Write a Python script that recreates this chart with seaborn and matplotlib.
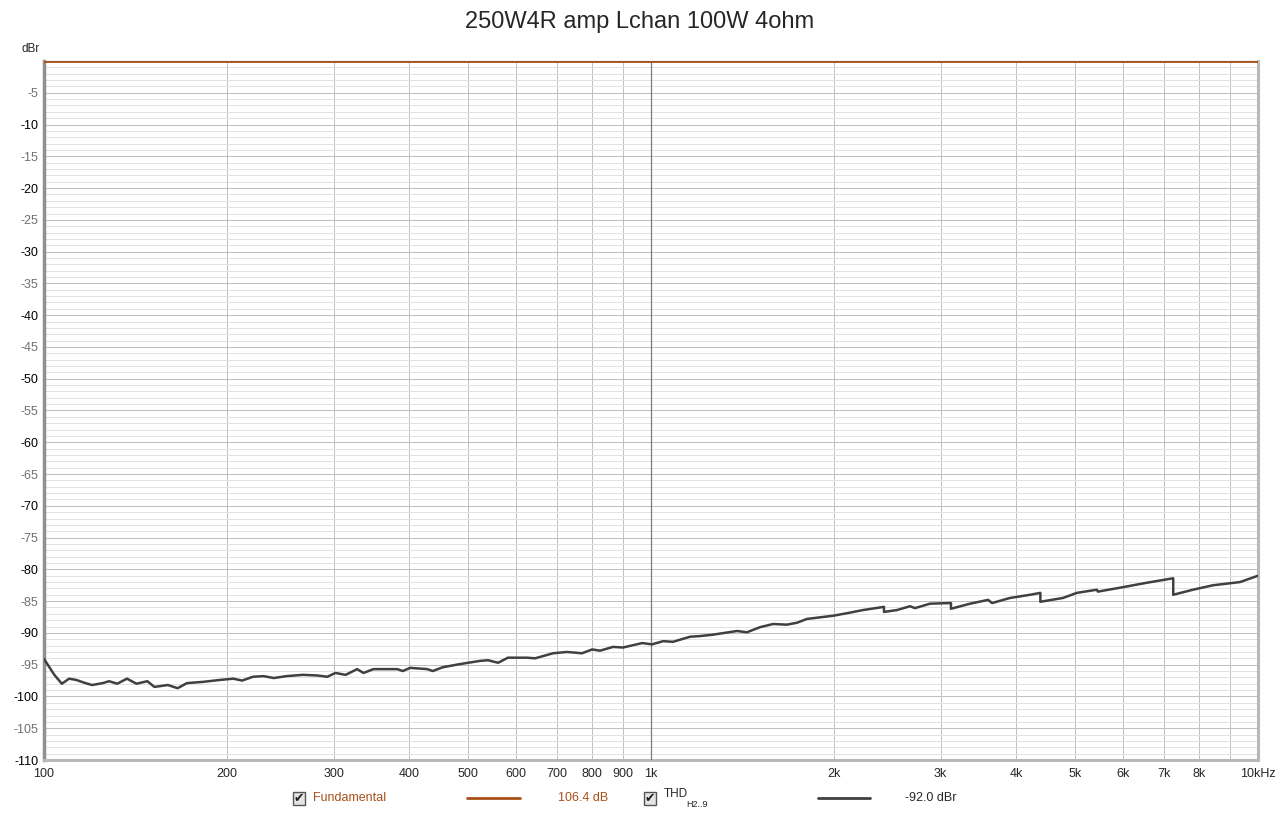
import numpy as np
import pandas as pd
import matplotlib
matplotlib.use("Agg")
import matplotlib.pyplot as plt
import seaborn as sns
from matplotlib.lines import Line2D
from matplotlib.patches import Rectangle

# THD (H2..9) relative to fundamental
thd_freq = [100, 104, 107, 110, 113, 117, 120, 125, 128, 132, 137, 142, 148, 152,
            160, 166, 172, 183, 195, 205, 212, 221, 230, 239, 251, 267, 282, 293,
            302, 314, 328, 336, 349, 382, 390, 401, 428, 437, 454, 485, 523, 539,
            560, 581, 625, 644, 690, 727, 770, 800, 824, 866, 899, 967, 1004, 1047,
            1087, 1160, 1204, 1260, 1386, 1439, 1512, 1589, 1675, 1740, 1807, 1995,
            2103, 2236, 2420, 2420, 2543, 2671, 2722, 2882, 3120, 3120, 3355, 3592,
            3647, 3904, 4211, 4380, 4380, 4772, 5031, 5427, 5448, 5993, 6564, 7250,
            7250, 7815, 8433, 9339, 10000]
thd_db = [-94.1, -96.6, -98.0, -97.2, -97.4, -97.9, -98.2, -97.9, -97.6, -98.0,
          -97.2, -98.0, -97.6, -98.5, -98.2, -98.7, -97.9, -97.7, -97.4, -97.2,
          -97.5, -96.9, -96.8, -97.1, -96.8, -96.6, -96.7, -96.9, -96.3, -96.6,
          -95.7, -96.3, -95.7, -95.7, -96.0, -95.5, -95.7, -96.0, -95.4, -94.9,
          -94.4, -94.3, -94.7, -93.9, -93.9, -94.0, -93.2, -93.0, -93.2, -92.6,
          -92.8, -92.2, -92.3, -91.6, -91.8, -91.3, -91.4, -90.6, -90.5, -90.3,
          -89.7, -89.9, -89.1, -88.6, -88.7, -88.4, -87.8, -87.3, -86.9, -86.4,
          -85.9, -86.7, -86.4, -85.8, -86.1, -85.4, -85.3, -86.2, -85.4, -84.8,
          -85.3, -84.5, -84.0, -83.7, -85.1, -84.5, -83.7, -83.2, -83.5, -82.8,
          -82.1, -81.4, -84.0, -83.2, -82.5, -82.0, -81.0]

fund_freq = [100, 10000]
fund_db = [0.0, 0.0]

xtick_vals = [100, 200, 300, 400, 500, 600, 700, 800, 900, 1000,
              2000, 3000, 4000, 5000, 6000, 7000, 8000, 9000, 10000]
xtick_labels = ["100", "200", "300", "400", "500", "600", "700", "800", "900", "1k",
                "2k", "3k", "4k", "5k", "6k", "7k", "8k", "", "10kHz"]

fund_color = "#a8501a"
thd_color = "#404040"

sns.set_style("white")
plt.rcParams["font.family"] = ["Liberation Sans", "DejaVu Sans"]

fig = plt.figure(figsize=(12.8, 8.13), dpi=100)
ax = fig.add_axes([44 / 1280, 1 - 760 / 813, 1214 / 1280, 699 / 813])

df_thd = pd.DataFrame({"freq": thd_freq, "db": thd_db})
df_fund = pd.DataFrame({"freq": fund_freq, "db": fund_db})

sns.lineplot(data=df_fund, x="freq", y="db", ax=ax, color=fund_color, lw=2.0,
             sort=False, estimator=None, zorder=4)
sns.lineplot(data=df_thd, x="freq", y="db", ax=ax, color=thd_color, lw=1.8,
             sort=False, estimator=None, zorder=5)

ax.set_xscale("log")
ax.set_xlim(100, 10000)
ax.set_ylim(-110, 0)

# grid
ax.set_xticks(xtick_vals)
ax.set_xticklabels(xtick_labels)
ax.xaxis.set_minor_locator(matplotlib.ticker.NullLocator())
ax.set_yticks(np.arange(-110, 1, 5))
ax.set_yticks(np.arange(-110, 1, 1), minor=True)
ax.set_yticklabels(["" if v == 0 else str(int(v)) for v in np.arange(-110, 1, 5)])
ax.grid(True, which="major", axis="both", color="#c0c0c0", lw=0.72)
ax.grid(True, which="minor", axis="y", color="#e2e2e2", lw=0.72)
ax.axvline(1000, color="#7a7a7a", lw=0.9, zorder=3)
ax.set_axisbelow(True)

ax.tick_params(axis="both", which="both", length=0, labelsize=9)
ax.tick_params(axis="x", pad=6)
ax.tick_params(axis="y", pad=4)
for lab, v in zip(ax.get_yticklabels(), np.arange(-110, 1, 5)):
    lab.set_color("#000000" if v % 10 == 0 else "#707070")

ax.set_xlabel("")
ax.set_ylabel("")
ax.spines["top"].set_color("#d0d0d0")
ax.spines["top"].set_linewidth(1.0)
for side in ["right", "bottom"]:
    ax.spines[side].set_color("#b8b8b8")
    ax.spines[side].set_linewidth(2.2)
ax.spines["left"].set_color("#909090")
ax.spines["left"].set_linewidth(2.5)

fig.text(0.5, 1 - 22 / 813, "250W4R amp Lchan 100W 4ohm", ha="center", va="center",
         fontsize=17)
fig.text(21 / 1280, 1 - 49 / 813, "dBr", ha="left", va="center", fontsize=8.5)

# legend row
ly = 1 - 798 / 813


def checkbox(x):
    fig.patches.append(Rectangle((x / 1280, ly - 6.5 / 813), 12 / 1280, 13 / 813,
                                 transform=fig.transFigure, fc="#e4e4e4",
                                 ec="#555555", lw=1.0))
    fig.text((x + 6) / 1280, ly, "\u2714", ha="center", va="center", fontsize=9,
             family="DejaVu Sans", color="#202020")


checkbox(293)
fig.text(313 / 1280, ly, "Fundamental", ha="left", va="center", fontsize=9,
         color=fund_color)
fig.add_artist(Line2D([467 / 1280, 520 / 1280], [ly, ly], color=fund_color, lw=2.0))
fig.text(558 / 1280, ly, "106.4 dB", ha="left", va="center", fontsize=9,
         color=fund_color)

checkbox(644)
fig.text(664 / 1280, ly + 4 / 813, "THD", ha="left", va="center", fontsize=8.5)
fig.text(686 / 1280, ly - 6 / 813, "H2..9", ha="left", va="center", fontsize=6.5)
fig.add_artist(Line2D([818 / 1280, 870 / 1280], [ly, ly], color=thd_color, lw=2.0))
fig.text(905 / 1280, ly, "-92.0 dBr", ha="left", va="center", fontsize=9)

fig.savefig("out.png", dpi=100)
